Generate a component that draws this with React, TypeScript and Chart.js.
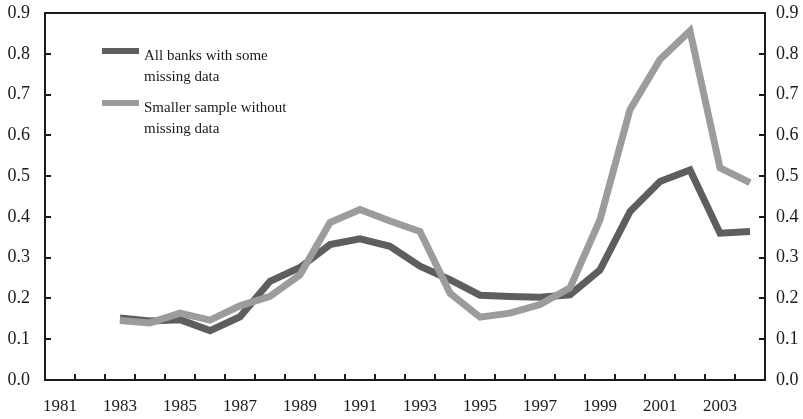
import React, { useEffect, useRef } from "react";
import { Chart, registerables } from "chart.js";

Chart.register(...registerables);

const years = [
  "1981", "1982", "1983", "1984", "1985", "1986", "1987", "1988", "1989", "1990",
  "1991", "1992", "1993", "1994", "1995", "1996", "1997", "1998", "1999", "2000",
  "2001", "2002", "2003", "2004",
];

const allBanks = [
  null, null, 0.152, 0.145, 0.148, 0.121, 0.155, 0.242, 0.276, 0.332,
  0.346, 0.328, 0.279, 0.246, 0.208, 0.205, 0.203, 0.209, 0.270, 0.413,
  0.487, 0.515, 0.360, 0.364,
];

const smallerSample = [
  null, null, 0.146, 0.140, 0.164, 0.147, 0.182, 0.205, 0.258, 0.386,
  0.418, 0.390, 0.364, 0.213, 0.154, 0.164, 0.185, 0.226, 0.393, 0.663,
  0.786, 0.856, 0.520, 0.484,
];

const legendLabels = [
  ["All banks with some", "missing data"],
  ["Smaller sample without", "missing data"],
];

const DARK = "#5e5e5e";
const LIGHT = "#9c9c9e";
const INK = "#1a1a1a";
const FONT = "'Liberation Serif', 'Times New Roman', serif";

const framePlugin = {
  id: "frame",
  afterDatasetsDraw(chart: any) {
    const { ctx, chartArea } = chart;
    const { left, right, top, bottom } = chartArea;
    const x = chart.scales.x;
    const y = chart.scales.y;
    ctx.save();
    ctx.strokeStyle = INK;
    ctx.lineWidth = 2;
    ctx.strokeRect(left, top, right - left, bottom - top);
    const n = years.length;
    const step = (right - left) / n;
    for (let i = 1; i < n; i++) {
      const px = Math.round(x.getPixelForValue(i) - step / 2);
      ctx.beginPath();
      ctx.moveTo(px, bottom);
      ctx.lineTo(px, bottom - 6);
      ctx.stroke();
    }
    for (let v = 1; v <= 8; v++) {
      const py = Math.round(y.getPixelForValue(v / 10));
      ctx.beginPath();
      ctx.moveTo(left, py);
      ctx.lineTo(left + 6, py);
      ctx.moveTo(right, py);
      ctx.lineTo(right - 6, py);
      ctx.stroke();
    }
    ctx.restore();
  },
  afterDraw(chart: any) {
    const { ctx } = chart;
    ctx.save();
    const colors = [DARK, LIGHT];
    const swY = [51, 103];
    ctx.font = `15px ${FONT}`;
    ctx.textBaseline = "middle";
    ctx.textAlign = "left";
    for (let k = 0; k < 2; k++) {
      ctx.fillStyle = colors[k];
      ctx.fillRect(102, swY[k] - 3, 37, 6);
      ctx.fillStyle = INK;
      ctx.fillText(legendLabels[k][0], 144, swY[k] + 5);
      ctx.fillText(legendLabels[k][1], 144, swY[k] + 26);
    }
    ctx.restore();
  },
};

export default function App() {
  const ref = useRef<HTMLCanvasElement | null>(null);
  useEffect(() => {
    document.body.style.margin = "0";
    const canvas = ref.current;
    if (!canvas) return;
    const yTicks = {
      color: INK,
      font: { family: FONT, size: 18 },
      callback: (v: any) => Number(v).toFixed(1),
      stepSize: 0.1,
    };
    const fitY = (w: number) => (s: any) => {
      s.width = w;
      s.paddingTop = 0;
      s.paddingBottom = 0;
    };
    const chart = new Chart(canvas, {
      type: "line",
      data: {
        labels: years,
        datasets: [
          {
            label: "All banks with some missing data",
            data: allBanks,
            borderColor: DARK,
            backgroundColor: DARK,
            borderWidth: 7,
            pointRadius: 0,
            tension: 0,
            order: 1,
            yAxisID: "y",
          },
          {
            label: "Smaller sample without missing data",
            data: smallerSample,
            borderColor: LIGHT,
            backgroundColor: LIGHT,
            borderWidth: 7,
            pointRadius: 0,
            tension: 0,
            order: 0,
            yAxisID: "y",
          },
        ],
      },
      options: {
        animation: false,
        responsive: false,
        maintainAspectRatio: false,
        layout: { padding: { top: 13, left: 0, right: 0, bottom: 0 } },
        plugins: { legend: { display: false }, tooltip: { enabled: false } },
        scales: {
          x: {
            type: "category",
            offset: true,
            grid: { display: false, offset: true, drawTicks: false },
            border: { display: false },
            ticks: {
              autoSkip: false,
              maxRotation: 0,
              minRotation: 0,
              color: INK,
              font: { family: FONT, size: 17 },
              padding: 16,
              callback: (_v: any, i: number) => (i % 2 === 0 ? years[i] : ""),
            },
            afterFit: (s: any) => {
              s.height = 39;
              s.paddingLeft = 0;
              s.paddingRight = 0;
            },
          },
          y: {
            position: "left",
            min: 0,
            max: 0.9,
            grid: { display: false, drawTicks: false },
            border: { display: false },
            ticks: { ...yTicks, padding: 15 },
            afterFit: fitY(45),
          },
          y1: {
            position: "right",
            min: 0,
            max: 0.9,
            grid: { display: false, drawTicks: false },
            border: { display: false },
            ticks: { ...yTicks, padding: 11 },
            afterFit: fitY(38),
          },
        },
      } as any,
      plugins: [framePlugin],
    });
    return () => chart.destroy();
  }, []);
  return <canvas ref={ref} width={803} height={419} style={{ display: "block" }} />;
}
